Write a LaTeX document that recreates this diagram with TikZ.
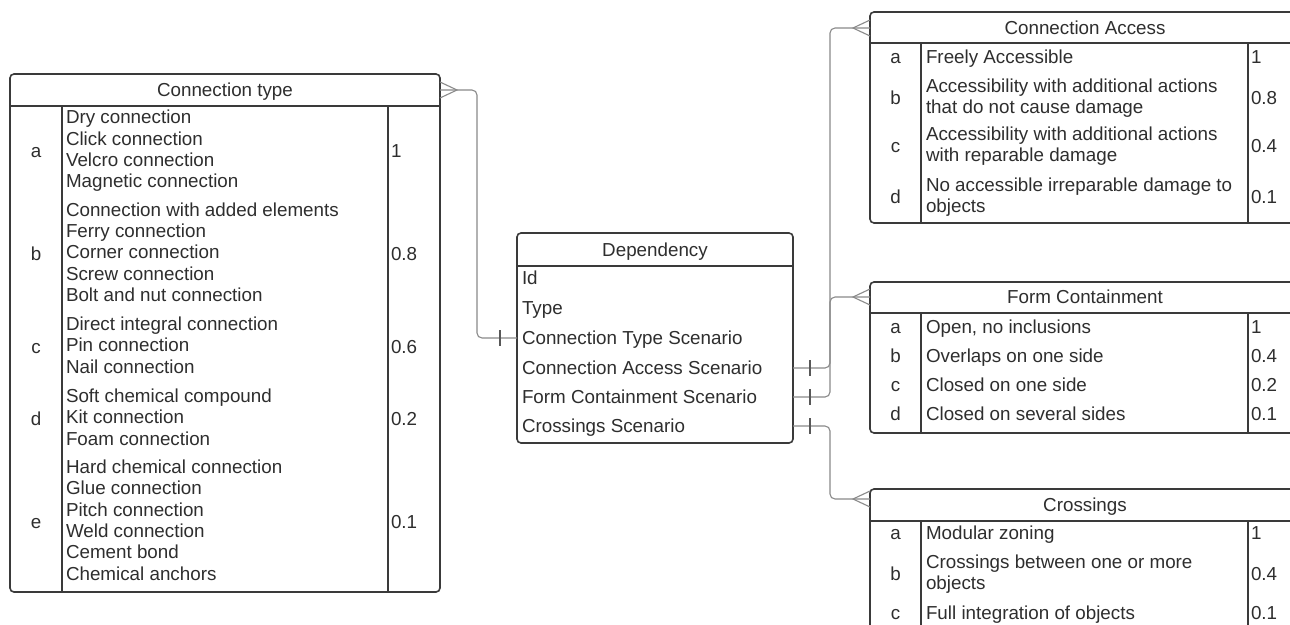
\documentclass[tikz,border=0pt]{standalone}
\usepackage{fontspec}
\setmainfont{Liberation Sans}
\usetikzlibrary{calc}
\definecolor{boxc}{HTML}{3A3A3A}
\definecolor{linec}{HTML}{8A8A8A}
\definecolor{txtc}{HTML}{2E2E2E}
\newcommand\rowstrut{\rule[-3.9pt]{0pt}{21.3pt}}
\tikzset{
  entity/.style={rectangle, draw=boxc, line width=1.6pt, rounded corners=4pt, anchor=north west, inner sep=0pt, outer sep=0pt},
  sepline/.style={draw=boxc, line width=1.6pt},
  conn/.style={draw=linec, line width=1.1pt},
  tickbar/.style={draw=boxc!85, line width=1.2pt},
  txt/.style={text=txtc, font=\fontsize{18.8}{21.3}\selectfont, inner sep=0pt, outer sep=0pt,
    execute at begin node=\rowstrut, execute at end node=\rowstrut},
  ltxt/.style={txt, anchor=west, align=left},
  ctxt/.style={txt, anchor=center, align=center},
}
\begin{document}
\begin{tikzpicture}[x=1pt,y=-1pt]
\useasboundingbox (0,0) rectangle (1290,624);
\fill[white] (0,0) rectangle (1290,624);
\clip (0,0) rectangle (1290,624);

% ---------------- Connection type ----------------
\node[entity, minimum width=430pt, minimum height=518pt] (ct) at (10,74) {};
\draw[sepline] (10,106) -- (440,106) (62,106) -- (62,592) (388,106) -- (388,592);
\node[ctxt] (ctH) at (225,90) {Connection type};
\node[ctxt] (ctLa) at (36,151) {a};
\node[ltxt] (ctTa) at (66,151) {Dry connection\\Click connection\\Velcro connection\\Magnetic connection};
\node[ltxt] (ctVa) at (391,151) {1};
\node[ctxt] (ctLb) at (36,254) {b};
\node[ltxt] (ctTb) at (66,254) {Connection with added elements\\Ferry connection\\Corner connection\\Screw connection\\Bolt and nut connection};
\node[ltxt] (ctVb) at (391,254) {0.8};
\node[ctxt] (ctLc) at (36,347) {c};
\node[ltxt] (ctTc) at (66,347) {Direct integral connection\\Pin connection\\Nail connection};
\node[ltxt] (ctVc) at (391,347) {0.6};
\node[ctxt] (ctLd) at (36,419) {d};
\node[ltxt] (ctTd) at (66,419) {Soft chemical compound\\Kit connection\\Foam connection};
\node[ltxt] (ctVd) at (391,419) {0.2};
\node[ctxt] (ctLe) at (36,522) {e};
\node[ltxt] (ctTe) at (66,522) {Hard chemical connection\\Glue connection\\Pitch connection\\Weld connection\\Cement bond\\Chemical anchors};
\node[ltxt] (ctVe) at (391,522) {0.1};

% ---------------- Dependency ----------------
\node[entity, minimum width=276pt, minimum height=210pt] (dep) at (517,233) {};
\draw[sepline] (517,266) -- (793,266);
\node[ctxt] (depH) at (655,249.5) {Dependency};
\node[ltxt] (dId) at (522,278) {Id};
\node[ltxt] (dTy) at (522,308) {Type};
\node[ltxt] (dCT) at (522,338) {Connection Type Scenario};
\node[ltxt] (dCA) at (522,368) {Connection Access Scenario};
\node[ltxt] (dFC) at (522,397) {Form Containment Scenario};
\node[ltxt] (dCr) at (522,426) {Crossings Scenario};

% ---------------- Connection Access ----------------
\node[entity, minimum width=430pt, minimum height=211pt] (ca) at (870,12) {};
\draw[sepline] (870,43) -- (1300,43) (921,43) -- (921,223) (1248,43) -- (1248,223);
\node[ctxt] (caH) at (1085,28) {Connection Access};
\node[ctxt] (caLa) at (895.5,57) {a};
\node[ltxt] (caTa) at (926,57) {Freely Accessible};
\node[ltxt] (caVa) at (1251,57) {1};
\node[ctxt] (caLb) at (895.5,98) {b};
\node[ltxt] (caTb) at (926,98) {Accessibility with additional actions\\that do not cause damage};
\node[ltxt] (caVb) at (1251,98) {0.8};
\node[ctxt] (caLc) at (895.5,146) {c};
\node[ltxt] (caTc) at (926,146) {Accessibility with additional actions\\with reparable damage};
\node[ltxt] (caVc) at (1251,146) {0.4};
\node[ctxt] (caLd) at (895.5,197) {d};
\node[ltxt] (caTd) at (926,197) {No accessible irreparable damage to\\objects};
\node[ltxt] (caVd) at (1251,197) {0.1};

% ---------------- Form Containment ----------------
\node[entity, minimum width=430pt, minimum height=151pt] (fc) at (870,282) {};
\draw[sepline] (870,313) -- (1300,313) (921,313) -- (921,433) (1248,313) -- (1248,433);
\node[ctxt] (fcH) at (1085,297) {Form Containment};
\node[ctxt] (fcLa) at (895.5,327) {a};
\node[ltxt] (fcTa) at (926,327) {Open, no inclusions};
\node[ltxt] (fcVa) at (1251,327) {1};
\node[ctxt] (fcLb) at (895.5,356) {b};
\node[ltxt] (fcTb) at (926,356) {Overlaps on one side};
\node[ltxt] (fcVb) at (1251,356) {0.4};
\node[ctxt] (fcLc) at (895.5,385) {c};
\node[ltxt] (fcTc) at (926,385) {Closed on one side};
\node[ltxt] (fcVc) at (1251,385) {0.2};
\node[ctxt] (fcLd) at (895.5,414) {d};
\node[ltxt] (fcTd) at (926,414) {Closed on several sides};
\node[ltxt] (fcVd) at (1251,414) {0.1};

% ---------------- Crossings ----------------
\node[entity, minimum width=430pt, minimum height=150pt] (cr) at (870,489) {};
\draw[sepline] (870,521) -- (1300,521) (921,521) -- (921,639) (1248,521) -- (1248,639);
\node[ctxt] (crH) at (1085,505) {Crossings};
\coordinate (crP) at ($(cr.north west)+(0,10)$);
\node[ctxt] (crLa) at (895.5,533) {a};
\node[ltxt] (crTa) at (926,533) {Modular zoning};
\node[ltxt] (crVa) at (1251,533) {1};
\node[ctxt] (crLb) at (895.5,574) {b};
\node[ltxt] (crTb) at (926,574) {Crossings between one or more\\objects};
\node[ltxt] (crVb) at (1251,574) {0.4};
\node[ctxt] (crLc) at (895.5,613) {c};
\node[ltxt] (crTc) at (926,613) {Full integration of objects};
\node[ltxt] (crVc) at (1251,613) {0.1};

% ---------------- Connectors ----------------
% Connection type (many) -- Dependency (one)
\coordinate (ctX) at ($(ct.east |- ctH)+(17,0)$);
\draw[conn] ($(ct.east |- ctH)+(0,-8)$) -- (ctX) -- ($(ct.east |- ctH)+(0,8)$);
\draw[conn, rounded corners=5pt] (ct.east |- ctH) -- (ctX) -- ++(20,0) |- (dep.west |- dCT);
\draw[tickbar] ($(dep.west |- dCT)+(-17,-8)$) -- ++(0,16);

% Dependency -- Connection Access
\coordinate (caX) at ($(ca.west |- caH)+(-17,0)$);
\draw[conn] ($(ca.west |- caH)+(0,-8)$) -- (caX) -- ($(ca.west |- caH)+(0,8)$);
\draw[conn, rounded corners=5pt] (dep.east |- dCA) -- ++(37,0) |- (caX) -- (ca.west |- caH);
\draw[tickbar] ($(dep.east |- dCA)+(17,-8)$) -- ++(0,16);

% Dependency -- Form Containment
\coordinate (fcX) at ($(fc.west |- fcH)+(-17,0)$);
\draw[conn] ($(fc.west |- fcH)+(0,-8)$) -- (fcX) -- ($(fc.west |- fcH)+(0,8)$);
\draw[conn, rounded corners=5pt] (dep.east |- dFC) -- ++(37,0) |- (fcX) -- (fc.west |- fcH);
\draw[tickbar] ($(dep.east |- dFC)+(17,-8)$) -- ++(0,16);

% Dependency -- Crossings
\coordinate (crX) at ($(crP)+(-17,0)$);
\draw[conn] ($(crP)+(0,-8)$) -- (crX) -- ($(crP)+(0,8)$);
\draw[conn, rounded corners=5pt] (dep.east |- dCr) -- ++(37,0) |- (crX) -- (crP);
\draw[tickbar] ($(dep.east |- dCr)+(17,-8)$) -- ++(0,16);
\end{tikzpicture}
\end{document}
